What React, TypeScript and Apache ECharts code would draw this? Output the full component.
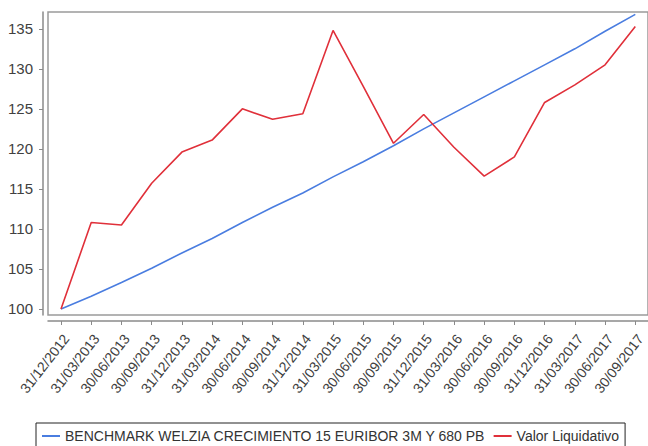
import React, { useEffect, useRef } from "react";
import * as echarts from "echarts";

const dates = [
  "31/12/2012", "31/03/2013", "30/06/2013", "30/09/2013", "31/12/2013",
  "31/03/2014", "30/06/2014", "30/09/2014", "31/12/2014", "31/03/2015",
  "30/06/2015", "30/09/2015", "31/12/2015", "31/03/2016", "30/06/2016",
  "30/09/2016", "31/12/2016", "31/03/2017", "30/06/2017", "30/09/2017",
];

const benchmark = [
  100, 101.6, 103.3, 105.1, 107.0, 108.8, 110.8, 112.7, 114.5, 116.5,
  118.4, 120.4, 122.5, 124.5, 126.5, 128.5, 130.5, 132.5, 134.7, 136.8,
];

const valor = [
  100, 110.8, 110.5, 115.7, 119.6, 121.1, 125.0, 123.7, 124.4, 134.8,
  127.8, 120.7, 124.3, 120.2, 116.6, 119.0, 125.8, 128.0, 130.5, 135.3,
];

const yTicks = [100, 105, 110, 115, 120, 125, 130, 135];

const seriesNames = [
  "BENCHMARK WELZIA CRECIMIENTO 15 EURIBOR 3M Y 680 PB",
  "Valor Liquidativo",
];

export default function App() {
  const ref = useRef<HTMLDivElement>(null);
  useEffect(() => {
    if (!ref.current) return;
    const chart = echarts.init(ref.current, null, { renderer: "svg" });
    const idx = dates.map((_, i) => i);
    const labelPos = dates.map((_, i) => i + 0.17);
    const font = "Liberation Sans, Arial, sans-serif";
    chart.setOption({
      animation: false,
      backgroundColor: "#ffffff",
      textStyle: { fontFamily: font },
      grid: {
        left: 48,
        top: 12,
        right: -2,
        bottom: 131,
        show: true,
        borderColor: "#9a9a9a",
        borderWidth: 1.5,
        containLabel: false,
      },
      legend: {
        left: 36,
        top: 423,
        orient: "horizontal",
        borderColor: "#222",
        borderWidth: 1,
        borderRadius: 0,
        padding: [6, 6, 6, 6],
        itemGap: 8,
        itemWidth: 18,
        itemHeight: 2,
        icon: "rect",
        textStyle: { fontSize: 14, color: "#333", fontFamily: font },
        data: seriesNames,
      },
      xAxis: {
        type: "value",
        min: -0.43,
        max: 19.42,
        offset: 6,
        axisLine: { show: true, onZero: false, lineStyle: { color: "#8a8a8a", width: 1.5 } },
        axisTick: {
          show: true,
          customValues: idx,
          length: 4,
          lineStyle: { color: "#8a8a8a" },
        },
        axisLabel: {
          customValues: labelPos,
          rotate: 52,
          margin: 15,
          fontSize: 14,
          color: "#404040",
          fontFamily: font,
          formatter: (v: number) => dates[Math.round(v)] ?? "",
        },
        splitLine: { show: false },
      },
      yAxis: {
        type: "value",
        min: 99.25,
        max: 137.1,
        offset: 5,
        axisLine: { show: true, onZero: false, lineStyle: { color: "#8a8a8a", width: 1.5 } },
        axisTick: {
          show: true,
          customValues: yTicks,
          length: 4,
          lineStyle: { color: "#8a8a8a" },
        },
        axisLabel: {
          customValues: yTicks,
          margin: 10,
          fontSize: 15,
          color: "#404040",
          fontFamily: font,
        },
        splitLine: { show: false },
      },
      series: [
        {
          name: seriesNames[0],
          type: "line",
          symbol: "none",
          data: benchmark.map((v, i) => [i, v]),
          lineStyle: { color: "#4a7de0", width: 1.6 },
          itemStyle: { color: "#4a7de0" },
        },
        {
          name: seriesNames[1],
          type: "line",
          symbol: "none",
          data: valor.map((v, i) => [i, v]),
          lineStyle: { color: "#e0303a", width: 1.6 },
          itemStyle: { color: "#e0303a" },
        },
      ],
    });
    return () => chart.dispose();
  }, []);
  return (
    <div
      ref={ref}
      style={{ position: "fixed", left: 0, top: 0, width: 648, height: 446 }}
    />
  );
}
